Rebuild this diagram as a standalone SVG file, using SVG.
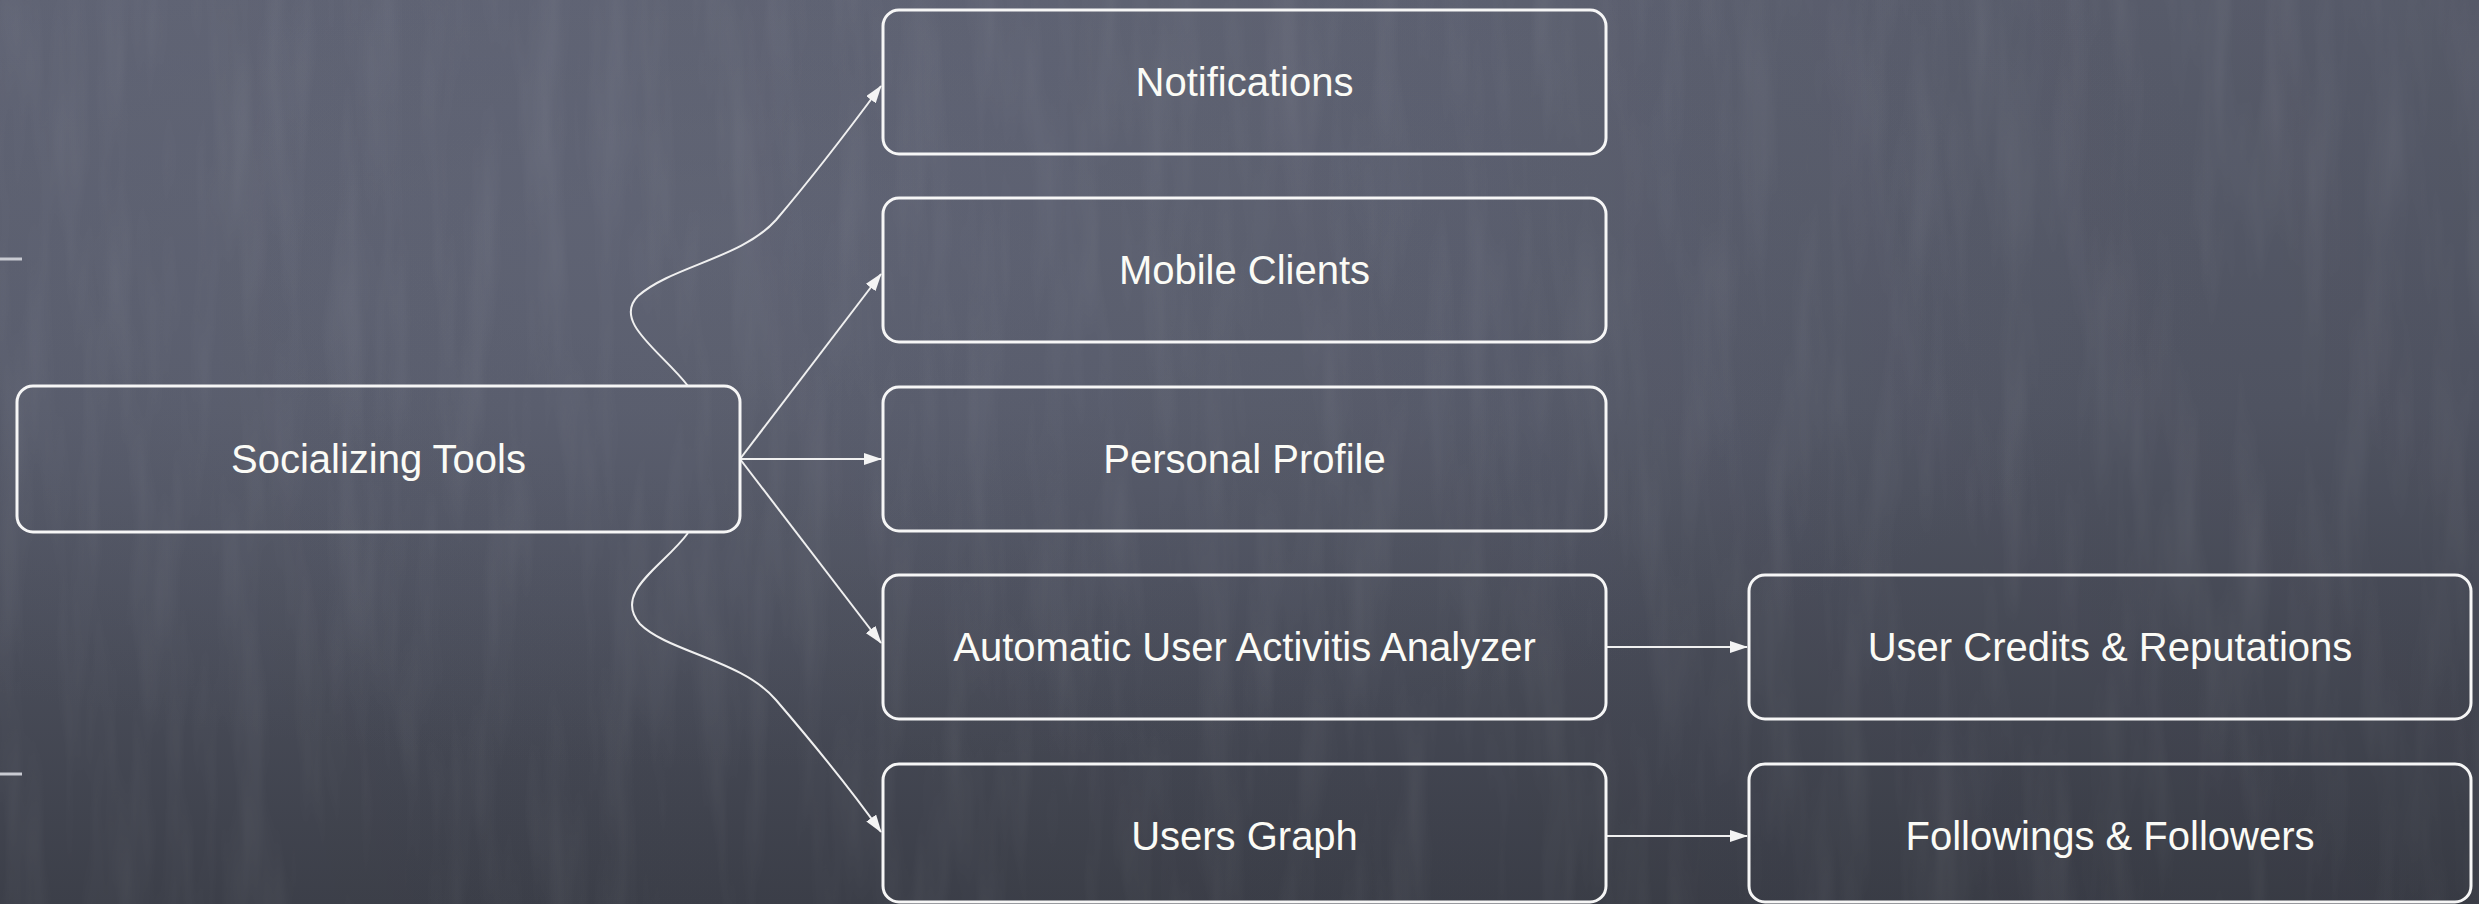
<svg xmlns="http://www.w3.org/2000/svg" width="2479" height="904" viewBox="0 0 2479 904">
  <defs>
    <linearGradient id="bgV" x1="0" y1="0" x2="0" y2="1">
      <stop offset="0" stop-color="#5d6171"/>
      <stop offset="0.45" stop-color="#555968"/>
      <stop offset="1" stop-color="#3c3f49"/>
    </linearGradient>
    <radialGradient id="bgGlow" cx="0.3" cy="0.25" r="0.6">
      <stop offset="0" stop-color="#6a6e80" stop-opacity="0.45"/>
      <stop offset="1" stop-color="#6a6e80" stop-opacity="0"/>
    </radialGradient>
    <linearGradient id="bgH" x1="0" y1="0" x2="1" y2="0">
      <stop offset="0" stop-color="#000" stop-opacity="0"/>
      <stop offset="0.6" stop-color="#000" stop-opacity="0.03"/>
      <stop offset="1" stop-color="#000" stop-opacity="0.08"/>
    </linearGradient>
    <filter id="chalk" x="0" y="0" width="100%" height="100%">
      <feTurbulence type="fractalNoise" baseFrequency="0.03 0.004" numOctaves="3" seed="7"/>
      <feColorMatrix type="matrix" values="0 0 0 0 1  0 0 0 0 1  0 0 0 0 1  0.9 0 0 0 -0.38"/>
    </filter>
    <marker id="arrow" viewBox="0 0 18 12" refX="17" refY="6" markerWidth="18" markerHeight="12" markerUnits="userSpaceOnUse" orient="auto">
      <path d="M0,0 L18,6 L0,12 z" fill="#f4f4f4"/>
    </marker>
    <style>
      .box { fill: none; stroke: #f6f6f6; stroke-width: 3; }
      .lbl { font-family: "Liberation Sans", Arial, Helvetica, sans-serif; font-size: 40px; fill: #fbfbf6; text-anchor: middle; }
      .conn { fill: none; stroke: #f0f0f0; stroke-width: 2; marker-end: url(#arrow); }
      .tick { stroke: #c9cbd2; stroke-width: 3; }
    </style>
  </defs>

  <!-- background -->
  <rect x="0" y="0" width="2479" height="904" fill="url(#bgV)"/>
  <rect x="0" y="0" width="2479" height="904" fill="url(#bgGlow)"/>
  <rect x="0" y="0" width="2479" height="904" fill="url(#bgH)"/>
  <rect x="0" y="0" width="2479" height="904" filter="url(#chalk)" opacity="0.12"/>

  <!-- slide ticks -->
  <line class="tick" x1="0" y1="259" x2="22" y2="259"/>
  <line class="tick" x1="0" y1="774" x2="22" y2="774"/>

  <g id="connectors">
    <path class="conn" d="M688,386 C662,352 612,322 638,296 C672,266 742,258 776,220 C810,180 850,128 881,86"/>
    <path class="conn" d="M740,459 L881,274"/>
    <path class="conn" d="M740,459 L881,459"/>
    <path class="conn" d="M740,459 L881,643"/>
    <path class="conn" d="M688,533 C664,566 612,592 640,624 C668,652 742,660 776,700 C812,742 850,788 881,832"/>
    <path class="conn" d="M1606,647 L1747,647"/>
    <path class="conn" d="M1606,836 L1747,836"/>
  </g>

  <g id="n_social">
    <rect class="box" x="17" y="386" width="723" height="146" rx="16"/>
    <text class="lbl" x="378.5" y="473">Socializing Tools</text>
  </g>
  <g id="n_notifications">
    <rect class="box" x="883" y="10" width="723" height="144" rx="16"/>
    <text class="lbl" x="1244.5" y="96">Notifications</text>
  </g>
  <g id="n_mobile">
    <rect class="box" x="883" y="198" width="723" height="144" rx="16"/>
    <text class="lbl" x="1244.5" y="284">Mobile Clients</text>
  </g>
  <g id="n_profile">
    <rect class="box" x="883" y="387" width="723" height="144" rx="16"/>
    <text class="lbl" x="1244.5" y="473">Personal Profile</text>
  </g>
  <g id="n_analyzer">
    <rect class="box" x="883" y="575" width="723" height="144" rx="16"/>
    <text class="lbl" x="1244.5" y="661">Automatic User Activitis Analyzer</text>
  </g>
  <g id="n_graph">
    <rect class="box" x="883" y="764" width="723" height="138" rx="16"/>
    <text class="lbl" x="1244.5" y="850">Users Graph</text>
  </g>
  <g id="n_credits">
    <rect class="box" x="1749" y="575" width="722" height="144" rx="16"/>
    <text class="lbl" x="2110" y="661">User Credits &amp; Reputations</text>
  </g>
  <g id="n_follow">
    <rect class="box" x="1749" y="764" width="722" height="138" rx="16"/>
    <text class="lbl" x="2110" y="850">Followings &amp; Followers</text>
  </g>
</svg>
